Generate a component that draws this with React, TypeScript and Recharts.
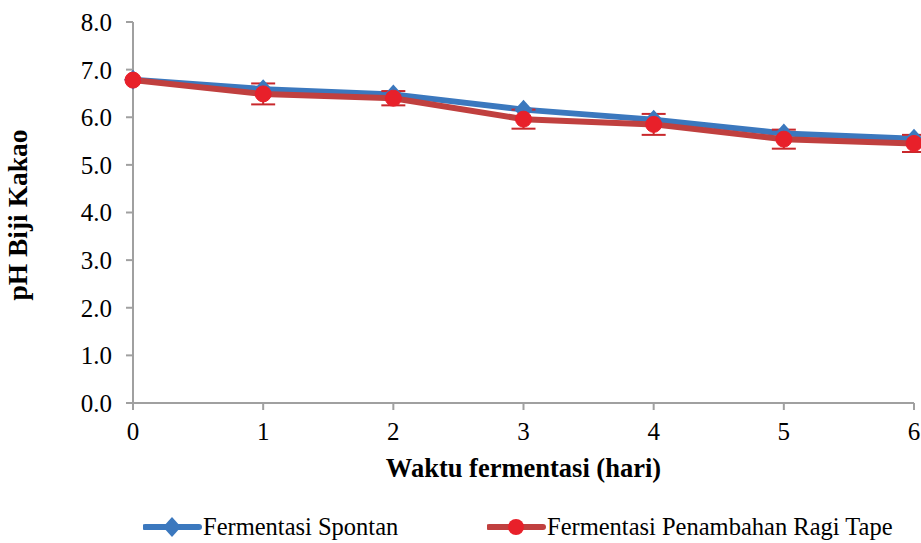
import React from "react";
import { LineChart, Line, XAxis, YAxis, ErrorBar } from "recharts";

const days = [0, 1, 2, 3, 4, 5, 6];
const spontan = [6.79, 6.59, 6.48, 6.16, 5.95, 5.66, 5.55];
const ragiTape = [6.78, 6.49, 6.4, 5.96, 5.85, 5.54, 5.45];
const ragiTapeErr = [0, 0.22, 0.15, 0.2, 0.22, 0.2, 0.18];
const yTicks = [0, 1, 2, 3, 4, 5, 6, 7, 8];

const BLUE = "#3b78be";
const RED_LINE = "#c0403f";
const RED_DOT = "#e8202a";
const FONT = "Liberation Serif, serif";

const data = days.map((d, i) => ({
  day: d,
  spontan: spontan[i],
  ragi: ragiTape[i],
  ragiErr: ragiTapeErr[i],
}));

const Diamond = (props: any) => {
  const { cx, cy } = props;
  if (cx == null || cy == null) return null;
  return (
    <polygon
      points={`${cx},${cy - 10} ${cx + 9},${cy} ${cx},${cy + 10} ${cx - 9},${cy}`}
      fill={BLUE}
    />
  );
};

const YLabel = () => (
  <text
    x={27}
    y={215}
    transform="rotate(-90, 27, 215)"
    textAnchor="middle"
    fontFamily={FONT}
    fontWeight="bold"
    fontSize={27.5}
    fill="#000"
  >
    pH Biji Kakao
  </text>
);

export default function App() {
  const tickStyle = { fontFamily: FONT, fontSize: 25, fill: "#000" };
  return (
    <div
      style={{
        position: "absolute",
        left: 0,
        top: 0,
        width: 921,
        height: 543,
        background: "#fff",
        fontFamily: FONT,
      }}
    >
      <LineChart
        width={921}
        height={543}
        data={data}
        margin={{ top: 22, right: 7, left: 0, bottom: 60 }}
        style={{ fontFamily: FONT }}
      >
        <XAxis
          dataKey="day"
          type="number"
          domain={[0, 6]}
          ticks={days}
          height={80}
          stroke="#a0a0a0"
          strokeWidth={2}
          tickSize={7}
          tick={tickStyle}
          tickMargin={12}
          label={{
            value: "Waktu fermentasi (hari)",
            position: "insideBottom",
            offset: 6,
            style: { fontFamily: FONT, fontWeight: "bold", fontSize: 26.5, fill: "#000" },
          }}
        />
        <YAxis
          type="number"
          domain={[0, 8]}
          ticks={yTicks}
          width={133}
          stroke="#a0a0a0"
          strokeWidth={2}
          tickSize={7}
          tick={tickStyle}
          tickMargin={14}
          tickFormatter={(v: number) => v.toFixed(1)}
          label={{ content: () => <YLabel /> }}
        />
        <Line
          dataKey="spontan"
          stroke={BLUE}
          strokeWidth={6}
          dot={<Diamond />}
          activeDot={false}
          isAnimationActive={false}
        />
        <Line
          dataKey="ragi"
          stroke={RED_LINE}
          strokeWidth={6}
          dot={{ r: 8, fill: RED_DOT, stroke: RED_DOT, strokeWidth: 1 }}
          activeDot={false}
          isAnimationActive={false}
        >
          <ErrorBar dataKey="ragiErr" direction="y" width={12} stroke="#c8282c" strokeWidth={2} />
        </Line>
      </LineChart>
      <div
        style={{
          position: "absolute",
          top: 513,
          left: 0,
          width: 921,
          height: 28,
          fontSize: 24.5,
          color: "#000",
        }}
      >
        <div style={{ position: "absolute", left: 143, top: 0, display: "flex", alignItems: "center" }}>
          <svg width={60} height={28}>
            <line x1={2} y1={14} x2={56} y2={14} stroke={BLUE} strokeWidth={6} strokeLinecap="round" />
            <polygon points="29,4 38,14 29,24 20,14" fill={BLUE} />
          </svg>
          <span>Fermentasi Spontan</span>
        </div>
        <div style={{ position: "absolute", left: 487, top: 0, display: "flex", alignItems: "center" }}>
          <svg width={60} height={28}>
            <line x1={2} y1={14} x2={56} y2={14} stroke={RED_LINE} strokeWidth={6} strokeLinecap="round" />
            <circle cx={29} cy={14} r={8} fill={RED_DOT} />
          </svg>
          <span>Fermentasi Penambahan Ragi Tape</span>
        </div>
      </div>
    </div>
  );
}
